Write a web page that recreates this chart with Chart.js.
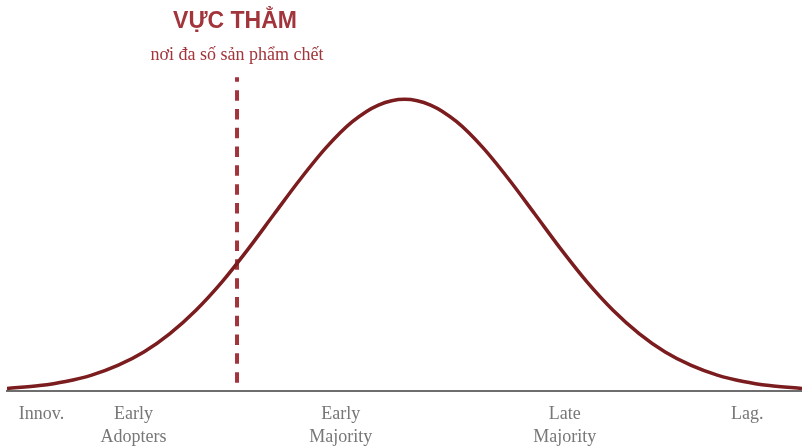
<!DOCTYPE html>
<html>
<head>
<meta charset="utf-8">
<script src="https://cdn.jsdelivr.net/npm/chart.js@4"></script>
<style>
  html, body { margin: 0; padding: 0; background: #ffffff; }
  canvas { display: block; }
</style>
</head>
<body>
<canvas id="c" width="802" height="447"></canvas>
<script>
// ---- data ----
// x in standard-deviation units, y as % of the peak height
const curveX = [-3.05, -2.8, -2.6, -2.4, -2.2, -2.0, -1.8, -1.6, -1.4, -1.2, -1.0, -0.8, -0.6, -0.4, -0.2, 0,
                0.2, 0.4, 0.6, 0.8, 1.0, 1.2, 1.4, 1.6, 1.8, 2.0, 2.2, 2.4, 2.6, 2.8, 3.05];
const curveY = [1.0, 2.0, 3.4, 5.6, 8.9, 13.5, 19.8, 27.8, 37.5, 48.7, 60.7, 72.6, 83.5, 92.3, 98.0, 100,
                98.0, 92.3, 83.5, 72.6, 60.7, 48.7, 37.5, 27.8, 19.8, 13.5, 8.9, 5.6, 3.4, 2.0, 1.0];

const segmentLabels = [["Innov."], ["Early", "Adopters"], ["Early", "Majority"], ["Late", "Majority"], ["Lag."]];
const segmentPositions = [-2.785, -2.08, -0.49, 1.23, 2.63];

const chasmX = -1.285;
const chasmFrom = 3;
const chasmTo = 107.5;
const chasmTitle = "VỰC THẲM";
const chasmSubtitle = "nơi đa số sản phẩm chết";

// ---- plugin: chasm line + annotation text ----
const chasmPlugin = {
  id: 'chasm',
  beforeDatasetsDraw(chart) {
    const ctx = chart.ctx;
    const xs = chart.scales.x, ys = chart.scales.y;
    const px = xs.getPixelForValue(chasmX);
    ctx.save();
    ctx.strokeStyle = '#a1353b';
    ctx.lineWidth = 4;
    ctx.setLineDash([10.5, 8.3]);
    ctx.beginPath();
    ctx.moveTo(px, ys.getPixelForValue(chasmFrom));
    ctx.lineTo(px, ys.getPixelForValue(chasmTo));
    ctx.stroke();
    ctx.restore();
  },
  afterDraw(chart) {
    const ctx = chart.ctx;
    const px = chart.scales.x.getPixelForValue(chasmX);
    ctx.save();
    ctx.textAlign = 'center';
    ctx.textBaseline = 'alphabetic';
    ctx.fillStyle = '#a1353b';
    ctx.font = 'bold 23px "Liberation Sans", Arial, sans-serif';
    ctx.fillText(chasmTitle, px - 2, 28);
    ctx.font = '18px "Liberation Serif", "Times New Roman", serif';
    ctx.fillText(chasmSubtitle, px, 60);
    ctx.restore();
  }
};

new Chart(document.getElementById('c'), {
  type: 'line',
  data: {
    datasets: [{
      data: curveX.map((x, i) => ({ x: x, y: curveY[i] })),
      borderColor: '#7b1c1f',
      borderWidth: 3.5,
      pointRadius: 0,
      fill: false,
      tension: 0.4,
      cubicInterpolationMode: 'monotone'
    }]
  },
  options: {
    responsive: false,
    animation: false,
    devicePixelRatio: 1,
    layout: { padding: { left: 7, right: 0, top: 70, bottom: -13.5 } },
    plugins: {
      legend: { display: false },
      tooltip: { enabled: false },
      title: { display: false }
    },
    scales: {
      x: {
        type: 'linear',
        min: -3.05,
        max: 3.05,
        grid: { display: false, drawTicks: false },
        border: { display: true, color: '#6e6e6e', width: 2 },
        afterBuildTicks(scale) {
          scale.ticks = segmentPositions.map(v => ({ value: v }));
        },
        ticks: {
          autoSkip: false,
          maxRotation: 0,
          minRotation: 0,
          padding: 11.5,
          color: '#777777',
          font: { family: '"Liberation Serif", "Times New Roman", serif', size: 18, lineHeight: 1.28 },
          callback(value, index) { return segmentLabels[index]; }
        }
      },
      y: {
        display: false,
        min: 0,
        max: 110
      }
    }
  },
  plugins: [chasmPlugin]
});
</script>
</body>
</html>
